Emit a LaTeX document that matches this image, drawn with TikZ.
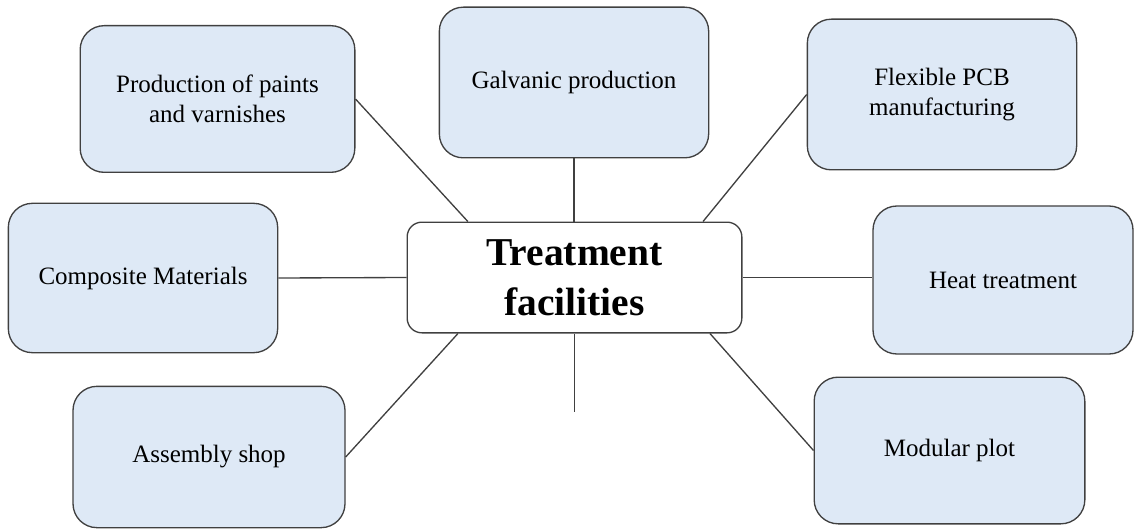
\documentclass[tikz,border=0pt]{standalone}
\usepackage{fontspec}
\setmainfont{Liberation Serif}
\usepackage{tikz}
\usetikzlibrary{positioning}

\tikzset{
  unit/.style={draw={rgb,255:red,64;green,64;blue,64}, line width=1pt, fill={rgb,255:red,222;green,233;blue,246},
    rounded corners=18pt, align=center, inner sep=0.75pt, minimum width=202pt, minimum height=112pt,
    font=\fontsize{18.75}{22.5}\selectfont},
  hub/.style={draw={rgb,255:red,64;green,64;blue,64}, line width=1pt, fill=white, rounded corners=11pt,
    align=center, inner sep=0.75pt, minimum width=251pt, minimum height=83pt,
    font=\fontsize{29.6}{37.5}\selectfont\bfseries},
  link/.style={draw={rgb,255:red,64;green,64;blue,64}, line width=1pt}
}

\begin{document}
\begin{tikzpicture}[x=0.75pt,y=0.75pt,yscale=-1,xscale=1]
\useasboundingbox (0,0) rectangle (1135,531);

%Rounded Rect: centre
\node [hub] (hub) at (574.5,277.5) {Treatment\\facilities};

%Rounded Rect: branches
\node [unit, minimum width=206pt, minimum height=110pt] (paints) at (217.5,99) {Production of paints\\and varnishes};
\node [unit, minimum height=113pt] (galv) at (574,82.5) {Galvanic production};
\node [unit, minimum height=113pt] (flex) at (942,94.5) {Flexible PCB\\manufacturing};
\node [unit] (comp) at (143,278) {Composite Materials};
\node [unit, minimum width=195pt, minimum height=111pt] (heat) at (1003,280) {Heat treatment};
\node [unit, minimum width=204pt, minimum height=106pt] (shop) at (209,457) {Assembly shop};
\node [unit, minimum width=203pt, minimum height=110pt] (plot) at (949.5,450.5) {Modular plot};

%Free end below the centre
\coordinate (tail) at (574.5,412);

%Straight Lines
\draw [link] (paints.east) -- ([xshift=-80pt]hub.north);
\draw [link] (galv.south) -- (galv.south |- hub.north);
\draw [link] (flex.west) -- ([xshift=96.4pt]hub.north);
\draw [link] (comp.east) -- (hub.west);
\draw [link] (hub.east) -- (hub.east -| heat.west);
\draw [link] ([xshift=-87.4pt]hub.south) -- (shop.east);
\draw [link] ([xshift=101.6pt]hub.south) -- (plot.west);
\draw [link] (hub.south) -- (tail);

\end{tikzpicture}
\end{document}
